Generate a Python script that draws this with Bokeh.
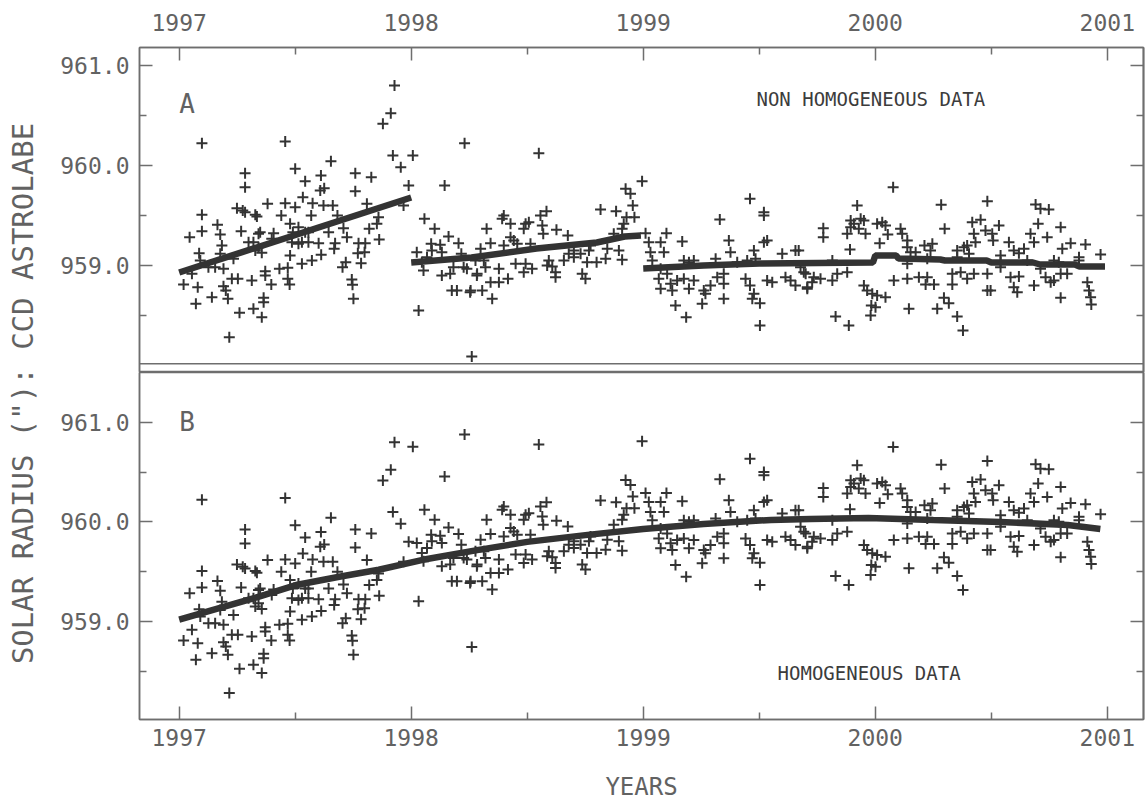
from math import pi
from bokeh.plotting import figure
from bokeh.models import (Range1d, FixedTicker, PrintfTickFormatter, LinearAxis,
                          Label, Span, ColumnDataSource)
from bokeh.layouts import row, column
from bokeh.embed import file_html
from bokeh.resources import INLINE

# ---------------- data ----------------
year_ticks = [1997, 1998, 1999, 2000, 2001]
year_minor = [1997.5, 1998.5, 1999.5, 2000.5]
radius_ticks = [959.0, 960.0, 961.0]
radius_minor = [958.5, 959.5, 960.5]

# 1997 observations (identical in both panels)
years_1997 = [
    1997.098, 1997.457, 1997.928, 1997.912, 1997.878, 1997.921, 1997.955, 1997.989, 1997.284, 1997.284,
    1997.500, 1997.543, 1997.654, 1997.611, 1997.625, 1997.608, 1997.759, 1997.759, 1997.828, 1997.098,
    1997.098, 1997.045, 1997.165, 1997.177, 1997.184, 1997.249, 1997.284, 1997.328, 1997.335, 1997.267,
    1997.381, 1997.457, 1997.500, 1997.533, 1997.575, 1997.622, 1997.662, 1997.569, 1997.440, 1997.407,
    1997.342, 1997.478, 1997.514, 1997.557, 1997.644, 1997.682, 1997.708, 1997.723, 1997.809, 1997.859,
    1997.852, 1997.819, 1997.862, 1997.967, 1997.773, 1997.802, 1997.770, 1997.799, 1997.784, 1997.718,
    1997.704, 1997.672, 1997.668, 1997.612, 1997.572, 1997.529, 1997.478, 1997.486, 1997.529, 1997.557,
    1997.601, 1997.349, 1997.299, 1997.320, 1997.356, 1997.432, 1997.468, 1997.371, 1997.371, 1997.468,
    1997.476, 1997.397, 1997.313, 1997.253, 1997.227, 1997.191, 1997.191, 1997.201, 1997.210, 1997.141,
    1997.080, 1997.019, 1997.072, 1997.260, 1997.320, 1997.356, 1997.364, 1997.364, 1997.216, 1997.744,
    1997.747, 1997.751, 1997.086, 1997.091, 1997.126, 1997.155, 1997.055, 1997.177, 1997.234, 1997.328,
    1997.274, 1997.490, 1997.543, 1997.514, 1997.342, 1997.399,
]
radius_1997 = [
    960.223, 960.240, 960.800, 960.523, 960.417, 960.100, 959.983, 959.800, 959.923, 959.783,
    959.967, 959.843, 960.043, 959.900, 959.773, 959.750, 959.923, 959.743, 959.883, 959.507,
    959.343, 959.283, 959.407, 959.310, 959.200, 959.573, 959.533, 959.507, 959.490, 959.343,
    959.617, 959.623, 959.583, 959.683, 959.623, 959.600, 959.600, 959.500, 959.500, 959.323,
    959.317, 959.417, 959.383, 959.333, 959.333, 959.500, 959.373, 959.283, 959.617, 959.483,
    959.417, 959.367, 959.260, 959.600, 959.223, 959.223, 959.123, 959.133, 959.023, 959.033,
    958.983, 959.223, 959.167, 959.107, 959.050, 959.017, 959.100, 959.233, 959.233, 959.233,
    959.223, 959.333, 959.233, 959.233, 959.127, 958.967, 958.977, 958.943, 958.900, 958.867,
    958.810, 958.810, 958.850, 958.867, 958.867, 958.967, 958.793, 958.750, 958.667, 958.683,
    958.783, 958.810, 958.617, 958.527, 958.567, 958.483, 958.677, 958.633, 958.283, 958.860,
    958.807, 958.667, 959.123, 959.050, 958.983, 958.983, 958.917, 959.117, 959.067, 959.150,
    959.550, 959.333, 959.333, 959.217, 959.183, 959.267,
]

# 1998 observations
years_1998 = [
    1998.007, 1998.230, 1998.144, 1998.057, 1998.101, 1998.161, 1998.204, 1998.024, 1998.086, 1998.089,
    1998.125, 1998.132, 1998.053, 1998.132, 1998.168, 1998.175, 1998.197, 1998.254, 1998.283, 1998.240,
    1998.216, 1998.032, 1998.261, 1998.182, 1998.226, 1998.046, 1998.068, 1998.550, 1998.924, 1998.945,
    1998.955, 1998.816, 1998.883, 1998.928, 1998.962, 1998.916, 1998.909, 1998.873, 1998.399, 1998.392,
    1998.428, 1998.325, 1998.342, 1998.493, 1998.485, 1998.507, 1998.557, 1998.583, 1998.565, 1998.569,
    1998.626, 1998.675, 1998.428, 1998.442, 1998.399, 1998.514, 1998.457, 1998.299, 1998.277, 1998.313,
    1998.284, 1998.320, 1998.256, 1998.306, 1998.349, 1998.342, 1998.378, 1998.417, 1998.378, 1998.450,
    1998.485, 1998.521, 1998.493, 1998.593, 1998.586, 1998.608, 1998.622, 1998.622, 1998.658, 1998.679,
    1998.701, 1998.701, 1998.737, 1998.751, 1998.758, 1998.799, 1998.838, 1998.845, 1998.766, 1998.730,
    1998.773, 1998.909, 1998.895,
]
radius_1998_raw = [
    960.100, 960.223, 959.800, 959.467, 959.367, 959.290, 959.223, 959.133, 959.217, 959.150,
    959.207, 959.133, 958.950, 958.900, 958.917, 958.750, 958.750, 958.733, 958.900, 958.967,
    959.117, 958.550, 958.090, 958.983, 958.983, 959.033, 959.083, 960.123, 959.767, 959.717,
    959.600, 959.560, 959.543, 959.483, 959.483, 959.417, 959.367, 959.317, 959.500, 959.467,
    959.417, 959.367, 959.223, 959.417, 959.367, 959.433, 959.500, 959.543, 959.400, 959.317,
    959.357, 959.300, 959.283, 959.250, 959.200, 959.217, 959.217, 959.167, 959.050, 959.050,
    958.917, 958.983, 958.750, 958.750, 958.667, 958.833, 958.833, 958.867, 958.967, 959.017,
    958.933, 958.967, 959.017, 959.050, 959.000, 958.990, 958.933, 958.883, 959.050, 959.117,
    959.150, 959.083, 958.917, 958.867, 959.033, 959.033, 959.067, 959.167, 959.150, 959.117,
    959.200, 959.057, 959.150,
]
radius_1998_hom = [
    960.755, 960.878, 960.455, 960.122, 960.022, 959.945, 959.878, 959.788, 959.872, 959.805,
    959.862, 959.788, 959.605, 959.555, 959.572, 959.405, 959.405, 959.388, 959.555, 959.622,
    959.772, 959.205, 958.745, 959.638, 959.638, 959.688, 959.738, 960.778, 960.422, 960.372,
    960.255, 960.215, 960.198, 960.138, 960.138, 960.072, 960.022, 959.972, 960.155, 960.122,
    960.072, 960.022, 959.878, 960.072, 960.022, 960.088, 960.155, 960.198, 960.055, 959.972,
    960.012, 959.955, 959.938, 959.905, 959.855, 959.872, 959.872, 959.822, 959.705, 959.705,
    959.572, 959.638, 959.405, 959.405, 959.322, 959.488, 959.488, 959.522, 959.622, 959.672,
    959.588, 959.622, 959.672, 959.705, 959.655, 959.645, 959.588, 959.538, 959.705, 959.772,
    959.805, 959.738, 959.572, 959.522, 959.688, 959.688, 959.722, 959.822, 959.805, 959.772,
    959.855, 959.712, 959.805,
]

# 1999-2000 observations
years_1999 = [
    1998.995, 1999.010, 1999.024, 1999.031, 1999.039, 1999.075, 1999.100, 1999.168, 1999.330, 1999.460,
    1999.520, 1999.520, 1999.369, 1999.376, 1999.534, 1999.520, 1999.477, 1999.484, 1999.599, 1999.656,
    1999.670, 1999.175, 1999.197, 1999.218, 1999.312, 1999.405, 1999.448, 1999.067, 1999.075, 1999.125,
    1999.139, 1999.185, 1999.197, 1999.146, 1999.175, 1999.218, 1999.261, 1999.268, 1999.254, 1999.290,
    1999.319, 1999.347, 1999.347, 1999.347, 1999.441, 1999.460, 1999.477, 1999.470, 1999.503, 1999.503,
    1999.534, 1999.556, 1999.613, 1999.635, 1999.656, 1999.707, 1999.692, 1999.089, 1999.075, 1999.103,
    1999.118,
    2000.077, 1999.922, 1999.894, 1999.908, 1999.937, 1999.951, 1999.894, 1999.929, 1999.958, 1999.879,
    1999.891, 1999.776, 1999.776, 2000.008, 2000.030, 2000.044, 2000.054, 2000.019, 2000.109, 2000.116,
    2000.138, 2000.138, 2000.152, 2000.174, 2000.212, 2000.246, 2000.238, 2000.284, 2000.299, 2000.483,
    2000.353, 2000.382, 2000.396, 2000.418, 2000.454, 2000.475, 2000.504, 2000.533, 2000.425, 2000.432,
    2000.508, 2000.576, 2000.597, 2000.619, 2000.641, 2000.540, 2000.669, 2000.684, 2000.702, 2000.741,
    2000.799, 2000.691, 2000.712, 2000.748, 2000.806, 2000.842, 2000.906, 2000.971, 2000.770, 2000.791,
    1999.678, 1999.700, 1999.707, 1999.728, 1999.735, 1999.764, 1999.815, 1999.836, 1999.879, 1999.829,
    1999.886, 1999.951, 1999.965, 1999.987, 2000.008, 2000.044, 1999.983, 1999.980, 2000.001, 2000.080,
    2000.138, 2000.145, 2000.188, 2000.224, 2000.253, 2000.217, 2000.267, 2000.296, 2000.317, 2000.353,
    2000.378, 2000.332, 2000.332, 2000.368, 2000.396, 2000.425, 2000.483, 2000.483, 2000.497, 2000.540,
    2000.583, 2000.597, 2000.612, 2000.619, 2000.684, 2000.712, 2000.734, 2000.756, 2000.770, 2000.799,
    2000.827, 2000.799, 2000.914, 2000.921, 2000.928, 2000.931, 1999.815, 2000.138, 2000.224, 2000.353,
    2000.404, 2000.540, 2000.655, 2000.878, 2000.878,
]
radius_1999_raw = [
    959.843, 959.323, 959.233, 959.133, 959.050, 959.233, 959.323, 959.240, 959.460, 959.667,
    959.533, 959.500, 959.250, 959.133, 959.250, 959.233, 959.150, 959.067, 959.117, 959.150,
    959.150, 959.050, 959.033, 959.050, 959.067, 959.033, 959.050, 958.867, 958.767, 958.750,
    958.600, 958.483, 958.767, 958.850, 958.867, 958.850, 958.750, 958.717, 958.617, 958.800,
    958.883, 958.917, 958.817, 958.667, 958.867, 958.800, 958.717, 958.667, 958.623, 958.400,
    958.850, 958.833, 958.883, 958.850, 958.800, 958.767, 958.933, 959.133, 958.967, 958.917,
    958.817,
    959.783, 959.600, 959.450, 959.417, 959.467, 959.450, 959.383, 959.367, 959.317, 959.317,
    959.160, 959.373, 959.283, 959.417, 959.433, 959.400, 959.310, 959.223, 959.367, 959.317,
    959.250, 959.183, 959.133, 959.133, 959.200, 959.217, 959.150, 959.607, 959.367, 959.643,
    959.150, 959.183, 959.200, 959.433, 959.457, 959.350, 959.317, 959.400, 959.317, 959.233,
    959.250, 959.233, 959.150, 959.123, 959.167, 959.100, 959.317, 959.233, 959.417, 959.283,
    959.383, 959.610, 959.567, 959.560, 959.167, 959.223, 959.210, 959.110, 959.050, 959.033,
    958.983, 958.917, 958.783, 958.833, 958.883, 958.867, 958.850, 958.917, 958.933, 958.490,
    958.400, 958.800, 958.750, 958.717, 958.700, 958.683, 958.600, 958.500, 958.583, 958.850,
    958.867, 958.567, 958.883, 958.883, 958.810, 958.810, 958.567, 958.677, 958.623, 958.490,
    958.350, 958.917, 958.810, 958.933, 958.867, 958.917, 958.917, 958.750, 958.750, 958.983,
    958.883, 958.783, 958.733, 958.890, 958.800, 958.967, 958.883, 958.833, 958.850, 958.917,
    958.917, 958.677, 958.833, 958.750, 958.683, 958.610, 959.050, 959.017, 959.067, 959.083,
    959.117, 959.033, 959.050, 959.050, 959.083,
]
radius_1999_hom = [
    960.811, 960.291, 960.201, 960.101, 960.018, 960.201, 960.291, 960.208, 960.428, 960.635,
    960.501, 960.468, 960.218, 960.101, 960.218, 960.201, 960.118, 960.035, 960.085, 960.118,
    960.118, 960.018, 960.001, 960.018, 960.035, 960.001, 960.018, 959.835, 959.735, 959.718,
    959.568, 959.451, 959.735, 959.818, 959.835, 959.818, 959.718, 959.685, 959.585, 959.768,
    959.851, 959.885, 959.785, 959.635, 959.835, 959.768, 959.685, 959.635, 959.591, 959.368,
    959.818, 959.801, 959.851, 959.818, 959.768, 959.735, 959.901, 960.101, 959.935, 959.885,
    959.785,
    960.751, 960.568, 960.418, 960.385, 960.435, 960.418, 960.351, 960.335, 960.285, 960.285,
    960.128, 960.341, 960.251, 960.385, 960.401, 960.368, 960.278, 960.191, 960.335, 960.285,
    960.218, 960.151, 960.101, 960.101, 960.168, 960.185, 960.118, 960.575, 960.335, 960.611,
    960.118, 960.151, 960.168, 960.401, 960.425, 960.318, 960.285, 960.368, 960.285, 960.201,
    960.218, 960.201, 960.118, 960.091, 960.135, 960.068, 960.285, 960.201, 960.385, 960.251,
    960.351, 960.578, 960.535, 960.528, 960.135, 960.191, 960.178, 960.078, 960.018, 960.001,
    959.951, 959.885, 959.751, 959.801, 959.851, 959.835, 959.818, 959.885, 959.901, 959.458,
    959.368, 959.768, 959.718, 959.685, 959.668, 959.651, 959.568, 959.468, 959.551, 959.818,
    959.835, 959.535, 959.851, 959.851, 959.778, 959.778, 959.535, 959.645, 959.591, 959.458,
    959.318, 959.885, 959.778, 959.901, 959.835, 959.885, 959.885, 959.718, 959.718, 959.951,
    959.851, 959.751, 959.701, 959.858, 959.768, 959.935, 959.851, 959.801, 959.818, 959.885,
    959.885, 959.645, 959.801, 959.718, 959.651, 959.578, 960.018, 959.985, 960.035, 960.051,
    960.085, 960.001, 960.018, 960.018, 960.051,
]

# fitted curves
fit_a_1997_years = [1997.0, 1998.0]
fit_a_1997 = [958.93, 959.68]
fit_a_1998_years = [1998.0, 1998.26, 1998.54, 1998.80, 1998.92, 1998.99]
fit_a_1998 = [959.03, 959.08, 959.17, 959.23, 959.29, 959.30]
fit_a_1999_years = [1999.0, 1999.26, 1999.50, 1999.99, 2000.0, 2000.09, 2000.10, 2000.28,
                    2000.30, 2000.48, 2000.50, 2000.68, 2000.71, 2000.86, 2000.88, 2000.99]
fit_a_1999 = [958.97, 959.00, 959.02, 959.03, 959.10, 959.10, 959.07, 959.06,
              959.05, 959.05, 959.03, 959.03, 959.01, 959.01, 958.99, 958.99]
fit_b_years = [1997.0, 1997.18, 1997.33, 1997.51, 1997.69, 1997.86, 1998.05, 1998.29, 1998.50,
               1998.76, 1999.0, 1999.26, 1999.55, 1999.72, 1999.97, 2000.25, 2000.54, 2000.83, 2000.97]
fit_b = [959.02, 959.14, 959.24, 959.37, 959.45, 959.52, 959.62, 959.72, 959.80,
         959.87, 959.93, 959.98, 960.02, 960.03, 960.04, 960.02, 960.00, 959.97, 959.93]

# ---------------- styling ----------------
FONT = "DejaVu Sans Mono"
TXT = "#626262"
INK = "#333333"
FRAME = "#6e6e6e"

x_range = Range1d(1996.829, 2001.156)


def style_axis(ax, ticks, minor, fmt, standoff=10):
    ax.ticker = FixedTicker(ticks=ticks, minor_ticks=minor)
    ax.formatter = PrintfTickFormatter(format=fmt)
    ax.major_tick_in = 13
    ax.major_tick_out = 0
    ax.minor_tick_in = 7
    ax.minor_tick_out = 0
    ax.major_tick_line_color = FRAME
    ax.minor_tick_line_color = FRAME
    ax.major_tick_line_width = 1.5
    ax.minor_tick_line_width = 1.5
    ax.axis_line_color = FRAME
    ax.axis_line_width = 1.5
    ax.major_label_text_font = FONT
    ax.major_label_text_color = TXT
    ax.major_label_text_font_size = "23px"
    ax.major_label_standoff = standoff


def add_right_ticks(p):
    # label-free tick marks on the right edge (long at whole units, short at halves)
    for tk, ln in [(radius_ticks, 13), (radius_minor, 7)]:
        ax = LinearAxis(ticker=FixedTicker(ticks=[], minor_ticks=tk))
        ax.minor_tick_in = ln
        ax.minor_tick_out = 0
        ax.major_tick_in = 0
        ax.major_tick_out = 0
        ax.minor_tick_line_color = FRAME
        ax.minor_tick_line_width = 1.5
        ax.axis_line_color = FRAME
        ax.axis_line_width = 1.5
        ax.major_label_standoff = 0
        p.add_layout(ax, "right")


def base_fig(height, y_range, **kw):
    p = figure(width=1103, height=height, x_range=x_range, y_range=y_range,
               output_backend="svg", toolbar_location=None,
               min_border_left=95, min_border_right=4, **kw)
    p.grid.visible = False
    p.outline_line_color = FRAME
    p.outline_line_width = 1.5
    p.background_fill_color = "white"
    p.border_fill_color = "white"
    return p


# ---------------- panel A ----------------
top = base_fig(372, Range1d(957.93, 961.18), x_axis_location="above",
               min_border_top=47, min_border_bottom=0)
style_axis(top.xaxis[0], year_ticks, year_minor, "%d", standoff=17)
style_axis(top.yaxis[0], radius_ticks, radius_minor, "%.1f", standoff=10)
add_right_ticks(top)
top.add_layout(Span(location=958.017, dimension="width", line_color=FRAME, line_width=1.5))

src_a = ColumnDataSource(dict(
    year=years_1997 + years_1998 + years_1999,
    radius=radius_1997 + radius_1998_raw + radius_1999_raw))
top.scatter("year", "radius", source=src_a, marker="cross", size=11,
            line_color=INK, line_width=2)
for fx, fy in [(fit_a_1997_years, fit_a_1997), (fit_a_1998_years, fit_a_1998),
               (fit_a_1999_years, fit_a_1999)]:
    top.line(fx, fy, line_color=INK, line_width=6.5)

top.add_layout(Label(x=1997.0, y=960.62, text="A", text_font=FONT, text_font_size="26px",
                     text_color=TXT, text_align="left", text_baseline="middle"))
top.add_layout(Label(x=1999.488, y=960.67, text="NON HOMOGENEOUS DATA", text_font=FONT,
                     text_font_size="19px", text_color="#3c3c3c", text_align="left",
                     text_baseline="middle"))

# ---------------- panel B ----------------
bot = base_fig(431, Range1d(958.017, 961.50), min_border_top=0, min_border_bottom=83)
style_axis(bot.xaxis[0], year_ticks, year_minor, "%d", standoff=9)
style_axis(bot.yaxis[0], radius_ticks, radius_minor, "%.1f", standoff=10)
bot.xaxis[0].axis_label = "YEARS"
bot.xaxis[0].axis_label_text_font = FONT
bot.xaxis[0].axis_label_text_font_size = "24px"
bot.xaxis[0].axis_label_text_font_style = "normal"
bot.xaxis[0].axis_label_text_color = TXT
bot.xaxis[0].axis_label_standoff = 24
add_right_ticks(bot)

src_b = ColumnDataSource(dict(
    year=years_1997 + years_1998 + years_1999,
    radius=radius_1997 + radius_1998_hom + radius_1999_hom))
bot.scatter("year", "radius", source=src_b, marker="cross", size=11,
            line_color=INK, line_width=2)
bot.line(fit_b_years, fit_b, line_color=INK, line_width=6.5)

bot.add_layout(Label(x=1997.0, y=961.0, text="B", text_font=FONT, text_font_size="26px",
                     text_color=TXT, text_align="left", text_baseline="middle"))
bot.add_layout(Label(x=1999.579, y=958.48, text="HOMOGENEOUS DATA", text_font=FONT,
                     text_font_size="19px", text_color="#3c3c3c", text_align="left",
                     text_baseline="middle"))

# ---------------- shared y label ----------------
lab = figure(width=44, height=803, x_range=Range1d(0, 44), y_range=Range1d(0, 803),
             output_backend="svg", toolbar_location=None, min_border=0,
             x_axis_location=None, y_axis_location=None)
lab.outline_line_color = None
lab.grid.visible = False
lab.add_layout(Label(x=22, y=410, text='SOLAR RADIUS ("): CCD ASTROLABE', angle=pi / 2,
                     text_font=FONT, text_font_size="29px", text_color=TXT,
                     text_align="center", text_baseline="middle"))

layout = row(lab, column(top, bot))
open("out.html", "w").write(file_html(layout, INLINE))
